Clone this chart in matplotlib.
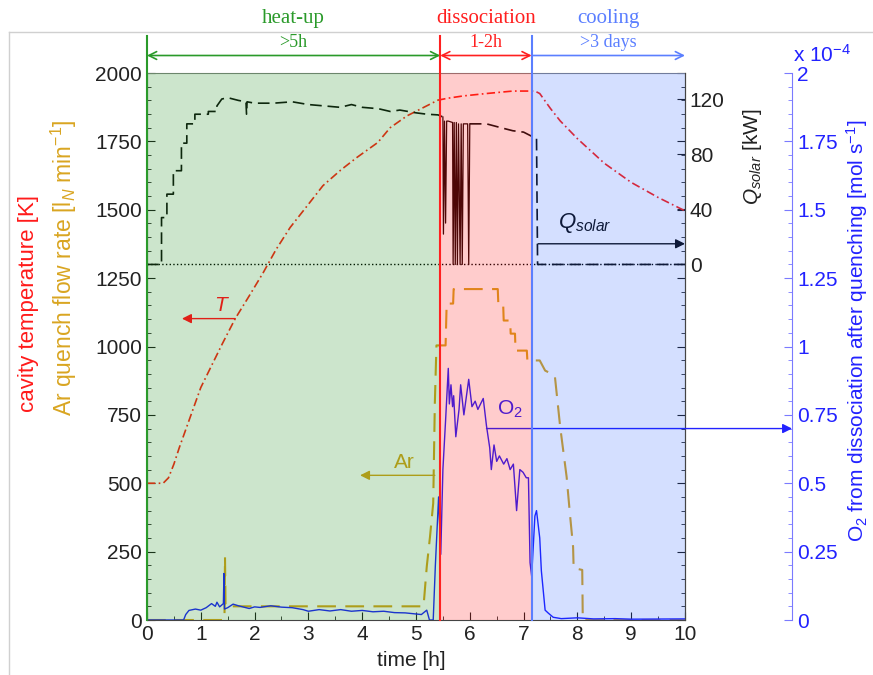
import matplotlib
matplotlib.use('Agg')
import matplotlib.pyplot as plt
from matplotlib.lines import Line2D
from matplotlib.ticker import MultipleLocator, NullLocator, FuncFormatter

plt.rcParams['font.family'] = ['Liberation Sans', 'DejaVu Sans']
plt.rcParams['mathtext.fontset'] = 'custom'
plt.rcParams['mathtext.rm'] = 'Liberation Sans'
plt.rcParams['mathtext.it'] = 'Liberation Sans:italic'

# cavity temperature [K]
temp_time = [0, 0.3, 0.4, 0.5, 0.6, 0.8, 1.0, 1.2, 1.4, 1.64, 1.9, 2.16, 2.4, 2.66, 3.0,
             3.27, 3.6, 3.9, 4.29, 4.52, 4.83, 5.2, 5.41, 5.6, 5.87, 6.31, 6.8, 7.21,
             7.3, 7.5, 7.68, 8.0, 8.5, 9.0, 9.5, 10]
temp_k = [500, 500, 520, 570, 630, 740, 850, 930, 1010, 1102, 1185, 1270, 1355, 1435, 1520,
          1588, 1645, 1691, 1746, 1800, 1843, 1880, 1901, 1908, 1916, 1925, 1934, 1934,
          1925, 1870, 1825, 1760, 1670, 1600, 1545, 1496]

# solar power [kW]
q_time = [0, 0.27, 0.27, 0.37, 0.37, 0.49, 0.49, 0.64, 0.64, 0.74, 0.74, 0.89, 0.89, 1.14,
          1.14, 1.30, 1.30, 1.39, 1.5, 1.7, 1.84, 1.85, 1.86, 2.0, 2.35, 2.7, 3.0, 3.3,
          3.59, 3.8, 4.0, 4.3, 4.52, 4.7, 5.0, 5.2, 5.41, 5.5, 5.51, 5.53, 5.55, 5.57,
          5.6, 5.68, 5.69, 5.71, 5.73, 5.75, 5.77, 5.79, 5.82, 5.84, 5.86, 5.88, 5.96,
          5.98, 6.0, 6.31, 6.6, 6.8, 7.0, 7.15, 7.24, 7.26, 10]
q_kw = [0, 0, 34, 34, 51, 51, 68, 68, 88, 88, 102, 102, 109, 109,
        111, 111, 115, 120, 121, 119, 118, 109, 118, 117, 117, 118, 116, 115,
        114, 116, 114, 113, 111, 112, 110, 109, 108.5, 107, 22, 104, 30, 104,
        104, 103, 0, 103, 0, 103, 0, 102, 0, 102, 0, 102, 102,
        0, 102, 102, 99, 97, 96, 93, 92, 0, 0]

# Ar quench flow rate [l_N/min]
ar_time = [0, 1.44, 1.45, 1.46, 5.14, 5.20, 5.26, 5.32, 5.35, 5.38, 5.55, 5.57, 5.69, 5.70,
           6.52, 6.53, 6.62, 6.63, 6.75, 6.76, 6.84, 6.85, 7.06, 7.07, 7.30, 7.40, 7.58,
           7.68, 7.80, 7.86, 7.92, 7.93, 8.09, 8.10, 10]
ar_flow = [0, 0, 230, 50, 50, 195, 304, 427, 791, 1004, 1004, 1157, 1157, 1210,
           1210, 1157, 1157, 1095, 1095, 1047, 1047, 985, 985, 949, 949, 912, 894,
           706, 523, 390, 267, 190, 183, 0, 0]

# O2 from dissociation after quenching [1e-4 mol/s]
o2_time = [0, 0.68, 0.72, 0.78, 0.9, 1.0, 1.1, 1.2, 1.27, 1.3, 1.35, 1.42, 1.43, 1.44, 1.5,
           1.6, 1.7, 1.8, 1.9, 2.0, 2.1, 2.3, 2.5, 2.7, 2.9, 3.0, 3.2, 3.4, 3.6, 3.8, 4.0,
           4.2, 4.4, 4.6, 4.8, 5.0, 5.1, 5.2, 5.25, 5.32, 5.36, 5.42, 5.46, 5.5, 5.55, 5.6,
           5.62, 5.65, 5.68, 5.7, 5.74, 5.8, 5.83, 5.89, 5.98, 6.04, 6.1, 6.15, 6.25, 6.31,
           6.37, 6.4, 6.45, 6.5, 6.55, 6.63, 6.69, 6.75, 6.81, 6.87, 6.93, 6.99, 7.05, 7.09,
           7.12, 7.15, 7.21, 7.24, 7.3, 7.33, 7.4, 7.46, 7.55, 7.7, 8.0, 8.3, 8.7, 9.0, 10]
o2_flow = [0, 0, 0.02, 0.035, 0.04, 0.036, 0.045, 0.06, 0.05, 0.065, 0.048, 0.06, 0.17, 0.04, 0.045,
           0.058, 0.052, 0.047, 0.042, 0.048, 0.046, 0.052, 0.047, 0.045, 0.038, 0.032, 0.038, 0.033, 0.038, 0.032, 0.035,
           0.03, 0.032, 0.027, 0.026, 0.022, 0.02, 0.036, 0.0, 0.0, 0.2, 0.45, 0.24, 0.55, 0.73, 0.92,
           0.79, 0.86, 0.78, 0.82, 0.67, 0.77, 0.86, 0.75, 0.88, 0.78, 0.8, 0.77, 0.81, 0.71,
           0.63, 0.55, 0.64, 0.58, 0.6, 0.57, 0.59, 0.55, 0.57, 0.40, 0.55, 0.54, 0.52, 0.52,
           0.21, 0.16, 0.38, 0.40, 0.30, 0.18, 0.036, 0.025, 0.01, 0.005, 0.008, 0.004, 0.005, 0.003, 0.004]

phase_edges = [0, 5.45, 7.15, 10]
phase_names = ['heat-up', 'dissociation', 'cooling']
phase_times = ['>5h', '1-2h', '>3 days']
phase_colors = ['#2a9a2a', '#ff2020', '#5b7fff']
phase_fills = [(0, 0.5, 0), (1, 0, 0), (0, 0.27, 1)]
phase_alpha = [0.2, 0.2, 0.17]

red = '#ff2418'
gold = '#d9a521'
blue = '#2222ff'

fig = plt.figure(figsize=(8.73, 6.75), dpi=100)
ax = fig.add_axes([0.16838, 0.08148, 0.61627, 0.81036])
ax2 = ax.twinx()
ax3 = ax.twinx()
ax3.set_autoscale_on(False)
ax.set_xlim(0, 10)
ax.set_ylim(0, 2000)
ax2.set_ylim(-1300 / 5.04, 700 / 5.04)
ax3.set_ylim(0, 2)

# all curves in the top axes so the phase colours lie over them
ax3.plot([0, 10], [0, 0], transform=ax2.transData, ls=':', color='k', lw=1, zorder=2)
ax3.plot(temp_time, temp_k, transform=ax.transData, color=red, lw=1.2,
         ls=(0, (5, 2, 1, 2)), zorder=2)
# Q_solar: dashed, the fluctuating part at the start of dissociation drawn thin and solid
i0 = q_time.index(5.5)
i1 = q_time.index(6.0)
ax3.plot(q_time[:i0 + 1], q_kw[:i0 + 1], transform=ax2.transData, color='#111111', lw=1.2,
         ls=(0, (7, 3.5)), zorder=2)
ax3.plot(q_time[i0:i1 + 1], q_kw[i0:i1 + 1], transform=ax2.transData, color='#220808',
         lw=0.9, zorder=2)
ax3.plot(q_time[i1:], q_kw[i1:], transform=ax2.transData, color='#111111', lw=1.2,
         ls=(0, (7, 3.5)), zorder=2)
ax3.plot(ar_time, ar_flow, transform=ax.transData, color=gold, lw=1.5,
         ls=(0, (9, 4.5)), zorder=2)
ax3.plot(o2_time, o2_flow, color=blue, lw=1.0, zorder=2)

# pointers
ax3.annotate('', xy=(0.65, 1102), xytext=(1.64, 1102), xycoords=ax.transData,
             textcoords=ax.transData, zorder=7,
             arrowprops=dict(arrowstyle='-|>', color='#e02018', lw=1.0, shrinkA=0, shrinkB=0,
                             mutation_scale=14))
ax3.text(1.375, 1150, 'T', transform=ax.transData, color='#e02018', fontsize=15,
         style='italic', ha='center', va='center', zorder=7)
ax3.annotate('', xy=(3.96, 529), xytext=(5.35, 529), xycoords=ax.transData,
             textcoords=ax.transData,
             arrowprops=dict(arrowstyle='-|>', color=gold, lw=1.0, shrinkA=0, shrinkB=0,
                             mutation_scale=14))
ax3.text(4.78, 577, 'Ar', transform=ax.transData, color=gold, fontsize=15,
         ha='center', va='center')
ax3.annotate('', xy=(10, 15), xytext=(7.27, 15), xycoords=ax2.transData,
             textcoords=ax2.transData,
             arrowprops=dict(arrowstyle='-|>', color='#111111', lw=1.0, shrinkA=0,
                             shrinkB=0, mutation_scale=14))
ax3.text(8.14, 30, r'$Q_{solar}$', transform=ax2.transData, color='#111111',
         fontsize=16, ha='center', va='center')
ax3.annotate('', xy=(1.199, 0.70), xytext=(6.31, 0.70),
             xycoords=ax3.get_yaxis_transform(), textcoords='data',
             arrowprops=dict(arrowstyle='-|>', color=blue, lw=1.0, shrinkA=0, shrinkB=0,
                             mutation_scale=14), annotation_clip=False)
ax3.text(6.75, 0.77, r'O$_2$', color=blue, fontsize=15, ha='center', va='center')

# phases
trans = ax.get_xaxis_transform()
for i in range(3):
    x0, x1 = phase_edges[i], phase_edges[i + 1]
    ax3.axvspan(x0, x1, facecolor=phase_fills[i], alpha=phase_alpha[i], lw=0, zorder=5)
    ax3.axvline(x0, 0, 1.0675, color=phase_colors[i], lw=1.5, clip_on=False, zorder=6)
    style = '<->' if i < 2 else '->'
    ax3.annotate('', xy=(x1, 1.032), xytext=(x0, 1.032), xycoords=trans,
                 textcoords=trans, annotation_clip=False,
                 arrowprops=dict(arrowstyle=style, color=phase_colors[i], lw=1.2,
                                 shrinkA=0, shrinkB=0, mutation_scale=14))
    xm = (x0 + x1) / 2
    ax3.text(xm, 1.056, phase_times[i], transform=trans, color=phase_colors[i],
             fontsize=13, family='Liberation Serif', ha='center', va='center')
    ax3.text(xm, 1.1, phase_names[i], transform=trans, color=phase_colors[i],
             fontsize=15, family='Liberation Serif', ha='center', va='center')

# main axis
ax.xaxis.set_major_locator(MultipleLocator(1))
ax.xaxis.set_minor_locator(MultipleLocator(0.5))
ax.yaxis.set_major_locator(MultipleLocator(250))
ax.yaxis.set_minor_locator(MultipleLocator(50))
ax.tick_params(which='both', direction='in', labelsize=15, colors='#222222',
               left=True, right=True, top=False)
ax.tick_params(which='major', length=6)
ax.tick_params(which='minor', length=3)
for s in ax.spines.values():
    s.set_color('#444444')
ax.spines['top'].set_color('#888888')

# Q axis
for s in ['left', 'top', 'bottom']:
    ax2.spines[s].set_visible(False)
    ax3.spines[s].set_visible(False)
ax2.spines['right'].set_color('#444444')
ax2.set_yticks([0, 40, 80, 120])
ax2.yaxis.set_minor_locator(NullLocator())
ax2.tick_params(direction='in', length=6, labelsize=15, colors='#222222')

# O2 axis
ax3.spines['right'].set_position(('axes', 1.199))
ax3.spines['right'].set_color('#7a7aff')
ax3.yaxis.set_major_locator(MultipleLocator(0.25))
ax3.yaxis.set_minor_locator(MultipleLocator(0.05))
ax3.yaxis.set_major_formatter(FuncFormatter(lambda v, p: '%g' % v))
ax3.tick_params(which='both', direction='in', labelsize=15, color='#7a7aff',
                labelcolor=blue)
ax3.tick_params(which='major', length=6)
ax3.tick_params(which='minor', length=3)
ax.set_xlim(0, 10)

# axis labels
fig.text(29 / 873, 1 - 304 / 675, 'cavity temperature [K]', color='#ff1a1a',
         fontsize=16, rotation=90, ha='center', va='center')
fig.text(64 / 873, 1 - 268 / 675, r'Ar quench flow rate [l$_N$ min$^{-1}$]', color=gold,
         fontsize=16.5, rotation=90, ha='center', va='center')
fig.text(411 / 873, 1 - 660 / 675, 'time [h]', color='#222222', fontsize=15,
         ha='center', va='center')
fig.text(753 / 873, 1 - 157 / 675, r'$Q_{solar}$ [kW]', color='#222222', fontsize=15,
         rotation=90, ha='center', va='center')
fig.text(857 / 873, 1 - 331 / 675, r'O$_2$ from dissociation after quenching [mol s$^{-1}$]',
         color=blue, fontsize=15, rotation=90, ha='center', va='center')
fig.text(793 / 873, 1 - 55 / 675, r'x 10$^{-4}$', color=blue, fontsize=15,
         ha='left', va='center')

# frame lines of the original picture
fig.add_artist(Line2D([9 / 873, 1], [1 - 32 / 675] * 2, color='#d0d0d0', lw=1))
fig.add_artist(Line2D([9 / 873] * 2, [0, 1 - 32 / 675], color='#d0d0d0', lw=1))

fig.savefig('out.png', dpi=100)
